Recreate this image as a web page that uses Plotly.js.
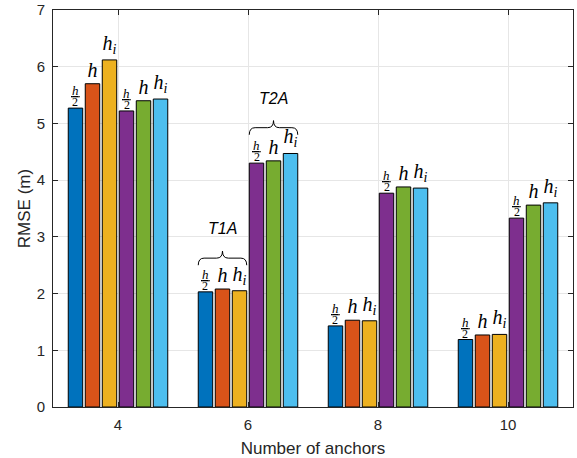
<!DOCTYPE html>
<html>
<head>
<meta charset="utf-8">
<script src="https://cdn.plot.ly/plotly-3.0.1.min.js"></script>
<style>
  html, body { margin: 0; padding: 0; background: #fff; }
  #chart { width: 577px; height: 458px; }
</style>
</head>
<body>
<div id="chart"></div>
<script>
// ---- data ----
var anchors = [4, 6, 8, 10];
var tickLabels = ['4', '6', '8', '10'];
var t1a_half = [5.27, 2.03, 1.43, 1.19];   // blue
var t1a_h    = [5.70, 2.08, 1.53, 1.27];   // orange
var t1a_hi   = [6.12, 2.05, 1.52, 1.28];   // yellow
var t2a_half = [5.22, 4.30, 3.77, 3.33];   // purple
var t2a_h    = [5.40, 4.34, 3.88, 3.56];   // green
var t2a_hi   = [5.43, 4.47, 3.86, 3.60];   // cyan
var seriesValues = [t1a_half, t1a_h, t1a_hi, t2a_half, t2a_h, t2a_hi];
var seriesLabels = ['half', 'h', 'hi', 'half', 'h', 'hi'];
var braceGroups = [
  {label: 'T1A', category: 6, series: [0, 1, 2]},
  {label: 'T2A', category: 6, series: [3, 4, 5]}
];

// ---- style ----
var colors = ['#0072BD', '#D95319', '#EDB120', '#7E2F8E', '#77AC30', '#4DBEEE'];
var BARGAP = 0.215, BARGROUPGAP = 0.15;
var braceLift = [0.42, 0.33];     // gap above tallest bar, data units
var braceHeight = 0.25;
var labelAbove = 0.64;
var axisColor = '#262626';
var sans = 'Liberation Sans';
var serif = 'Liberation Serif';

// bar geometry from plotly's grouping rule
var spacing = 2;
var groupWidth = spacing * (1 - BARGAP);
var slot = groupWidth / seriesValues.length;
function barLeft(cat, i) { return cat - groupWidth / 2 + slot * i + slot * BARGROUPGAP / 2; }
function barRight(cat, i) { return cat - groupWidth / 2 + slot * (i + 1) - slot * BARGROUPGAP / 2; }
function barCenter(cat, i) { return cat - groupWidth / 2 + slot * (i + 0.5); }

var annotations = [], shapes = [];

var traces = seriesValues.map(function (vals, i) {
  var kind = seriesLabels[i];
  var f = {family: serif, size: 20, color: '#000'};
  var tr = {
    type: 'bar',
    x: anchors,
    y: vals,
    marker: {color: colors[i], line: {color: '#000', width: 1}},
    cliponaxis: false,
    hoverinfo: 'x+y',
    showlegend: false
  };
  if (kind === 'half') {
    // fraction h/2 drawn as two stacked annotations on each bar
    anchors.forEach(function (cat, j) {
      var xc = barCenter(cat, i);
      annotations.push({xref: 'x', yref: 'y', x: xc, y: vals[j], text: '2',
        showarrow: false, xanchor: 'center', yanchor: 'bottom', yshift: -3,
        font: {family: serif, size: 12, color: '#000'}});
      annotations.push({xref: 'x', yref: 'y', x: xc, y: vals[j],
        text: '<span style="text-decoration:underline">&#8202;<i>h</i>&#8202;</span>',
        showarrow: false, xanchor: 'center', yanchor: 'bottom', yshift: 8,
        font: {family: serif, size: 13, color: '#000'}});
    });
  } else {
    var t = kind === 'h' ? '<i>h</i>' : '<i>h<sub>i</sub></i>';
    tr.text = vals.map(function () { return t; });
    tr.textposition = 'outside';
    tr.textangle = 0;
    tr.constraintext = 'none';
    tr.textfont = f;
    tr.outsidetextfont = f;
  }
  return tr;
});

braceGroups.forEach(function (g, k) {
  var ci = anchors.indexOf(g.category);
  var maxV = Math.max.apply(null, g.series.map(function (s) { return seriesValues[s][ci]; }));
  var x0 = barLeft(g.category, g.series[0]);
  var x1 = barRight(g.category, g.series[g.series.length - 1]);
  var xc = (x0 + x1) / 2;
  var yb = maxV + braceLift[k];
  var ym = yb + braceHeight * 0.5;
  var yt = yb + braceHeight;
  var r = 0.09;
  var p = 'M ' + x0 + ',' + yb +
          ' Q ' + x0 + ',' + ym + ' ' + (x0 + r) + ',' + ym +
          ' L ' + (xc - r) + ',' + ym +
          ' Q ' + xc + ',' + ym + ' ' + xc + ',' + yt +
          ' Q ' + xc + ',' + ym + ' ' + (xc + r) + ',' + ym +
          ' L ' + (x1 - r) + ',' + ym +
          ' Q ' + x1 + ',' + ym + ' ' + x1 + ',' + yb;
  shapes.push({type: 'path', xref: 'x', yref: 'y', path: p, line: {color: '#000', width: 1}});
  annotations.push({
    xref: 'x', yref: 'y', x: xc, y: yb + labelAbove, text: '<i>' + g.label + '</i>',
    showarrow: false, font: {family: sans, size: 16, color: '#000'}, xanchor: 'center', yanchor: 'middle'
  });
});

var layout = {
  width: 577, height: 458,
  margin: {l: 53, r: 4, t: 10, b: 51},
  paper_bgcolor: '#fff', plot_bgcolor: '#fff',
  barmode: 'group', bargap: BARGAP, bargroupgap: BARGROUPGAP,
  showlegend: false,
  xaxis: {
    range: [3, 11], tickvals: anchors, ticktext: tickLabels,
    showgrid: true, gridcolor: '#e6e6e6', gridwidth: 1,
    ticks: 'inside', ticklen: 5, tickcolor: axisColor, tickwidth: 1,
    showline: true, linecolor: axisColor, linewidth: 1, mirror: 'ticks', zeroline: false,
    tickfont: {family: sans, size: 15, color: axisColor},
    ticklabelstandoff: 4,
    title: {text: 'Number of anchors', font: {family: sans, size: 17, color: axisColor}, standoff: 11}
  },
  yaxis: {
    range: [0, 7], dtick: 1, tick0: 0,
    showgrid: true, gridcolor: '#e6e6e6', gridwidth: 1,
    ticks: 'inside', ticklen: 5, tickcolor: axisColor, tickwidth: 1,
    showline: true, linecolor: axisColor, linewidth: 1, mirror: 'ticks', zeroline: false,
    tickfont: {family: sans, size: 15, color: axisColor},
    ticklabelstandoff: 4,
    title: {text: 'RMSE (m)', font: {family: sans, size: 17, color: axisColor}, standoff: 1}
  },
  shapes: shapes,
  annotations: annotations
};

Plotly.newPlot('chart', traces, layout, {displayModeBar: false, staticPlot: true});
</script>
</body>
</html>
